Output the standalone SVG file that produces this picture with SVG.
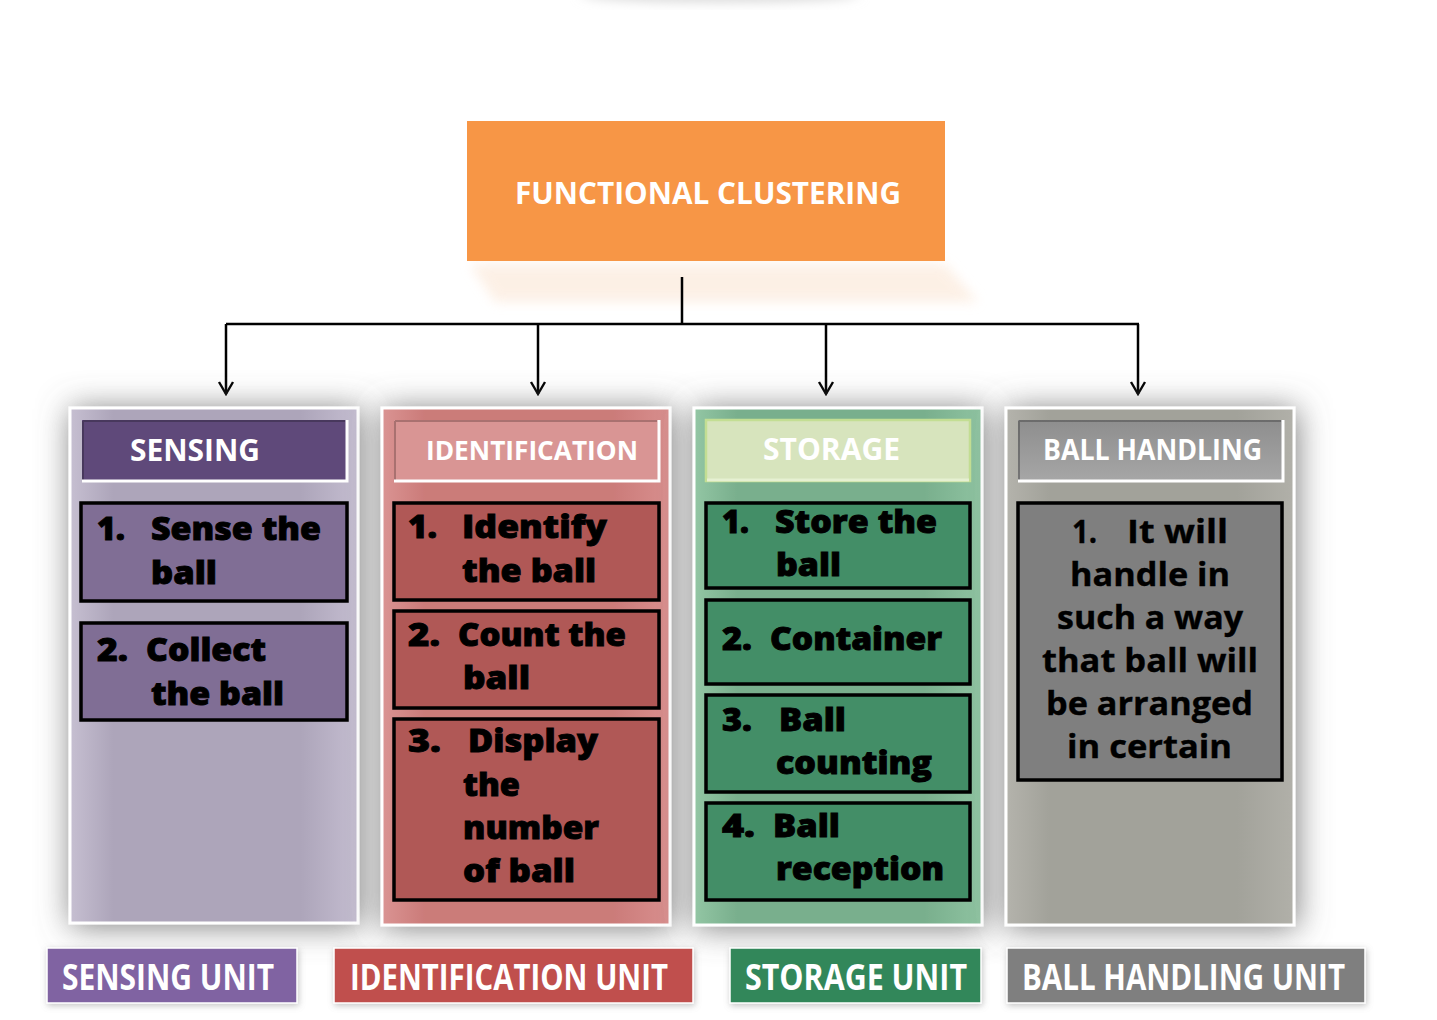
<svg xmlns="http://www.w3.org/2000/svg" width="1437" height="1020" viewBox="0 0 1437 1020">
<defs>
  <filter id="panelShadow" x="-25%" y="-20%" width="150%" height="140%">
    <feGaussianBlur in="SourceAlpha" stdDeviation="16"/>
    <feOffset dx="2" dy="2" result="b"/>
    <feFlood flood-color="#6a6a6a" flood-opacity="0.85"/>
    <feComposite in2="b" operator="in" result="s"/>
    <feMerge><feMergeNode in="s"/><feMergeNode in="SourceGraphic"/></feMerge>
  </filter>
  <filter id="soft" x="-20%" y="-50%" width="140%" height="200%">
    <feGaussianBlur stdDeviation="6"/>
  </filter>
  <filter id="smallShadow" x="-10%" y="-30%" width="120%" height="160%">
    <feGaussianBlur in="SourceAlpha" stdDeviation="3"/>
    <feOffset dx="1" dy="2" result="b"/>
    <feFlood flood-color="#888" flood-opacity="0.5"/>
    <feComposite in2="b" operator="in" result="s"/>
    <feMerge><feMergeNode in="s"/><feMergeNode in="SourceGraphic"/></feMerge>
  </filter>
  <linearGradient id="gSense" x1="0" y1="0" x2="1" y2="0">
    <stop offset="0" stop-color="#C6BFD1"/>
    <stop offset="0.15" stop-color="#ADA5BA"/>
    <stop offset="0.8" stop-color="#ADA5BA"/>
    <stop offset="1" stop-color="#C4BDD0"/>
  </linearGradient>
  <linearGradient id="gIdent" x1="0" y1="0" x2="1" y2="0">
    <stop offset="0" stop-color="#DA9493"/>
    <stop offset="0.15" stop-color="#CB7B79"/>
    <stop offset="0.8" stop-color="#CB7B79"/>
    <stop offset="1" stop-color="#D88F8E"/>
  </linearGradient>
  <linearGradient id="gStore" x1="0" y1="0" x2="1" y2="0">
    <stop offset="0" stop-color="#93C6A4"/>
    <stop offset="0.15" stop-color="#79AF8D"/>
    <stop offset="0.8" stop-color="#79AF8D"/>
    <stop offset="1" stop-color="#8FC3A1"/>
  </linearGradient>
  <linearGradient id="gBall" x1="0" y1="0" x2="1" y2="0">
    <stop offset="0" stop-color="#B4B3AC"/>
    <stop offset="0.15" stop-color="#A2A29A"/>
    <stop offset="0.8" stop-color="#A2A29A"/>
    <stop offset="1" stop-color="#B1B0A9"/>
  </linearGradient>
  <linearGradient id="gBallHead" x1="0" y1="0" x2="0" y2="1">
    <stop offset="0" stop-color="#8E8E8E"/>
    <stop offset="1" stop-color="#A6A6A6"/>
  </linearGradient>
  <marker id="arrow" viewBox="-2 -2 16 18" markerWidth="16" markerHeight="18" refX="12" refY="7" orient="auto" markerUnits="userSpaceOnUse">
    <path d="M0,0 L12,7 L0,14" fill="none" stroke="#000" stroke-width="2.4"/>
  </marker>
  <style>
    .head { font-family: "Open Sans", "Liberation Sans", sans-serif; font-weight: 700; fill: #fff; }
    .item { font-family: "Open Sans", "Liberation Sans", sans-serif; font-weight: 800; font-size: 32px; fill: #000; stroke: #000; stroke-width: 0.9; }
    .item2 { font-family: "Open Sans", "Liberation Sans", sans-serif; font-weight: 700; font-size: 33px; fill: #000; stroke: #000; stroke-width: 0.4; }
    .unit { font-family: "Open Sans", "Liberation Sans", sans-serif; font-weight: 700; font-size: 36px; fill: #fff; }
    .box { stroke: #000; stroke-width: 3.5; }
    .panel { stroke: #fff; stroke-width: 3; }
    .conn { fill: none; stroke: #000; stroke-width: 2.5; }
  </style>
</defs>
<rect width="1437" height="1020" fill="#fff"/>
<ellipse cx="720" cy="-6" rx="140" ry="8" fill="#d8d8d8" filter="url(#soft)"/>

<g id="top">
  <polygon points="470,264 945,264 978,302 495,302" fill="#FCEADB" opacity="0.7" filter="url(#soft)"/>
  <rect x="467" y="121" width="478" height="140" fill="#F79646"/>
  <text class="head" x="515" y="204" font-size="31" textLength="386" lengthAdjust="spacingAndGlyphs">FUNCTIONAL CLUSTERING</text>
</g>

<g id="connectors">
  <path class="conn" d="M682,277 V324"/>
  <path class="conn" d="M226,324 H1139"/>
  <path class="conn" d="M226,324 V394" marker-end="url(#arrow)"/>
  <path class="conn" d="M538,324 V394" marker-end="url(#arrow)"/>
  <path class="conn" d="M826,324 V394" marker-end="url(#arrow)"/>
  <path class="conn" d="M1138,324 V394" marker-end="url(#arrow)"/>
</g>

<g id="sensing">
  <rect class="panel" x="70" y="408" width="288" height="515" fill="url(#gSense)" filter="url(#panelShadow)"/>
  <rect x="82" y="420" width="264" height="61" fill="#5F497A"/>
  <path d="M83,421 H345 M83,421 V480" stroke="#3a2d4a" stroke-width="2" opacity="0.6"/>
  <path d="M82,481 H347 V420" fill="none" stroke="#fff" stroke-width="3"/>
  <text class="head" x="130" y="461" font-size="31" textLength="130" lengthAdjust="spacingAndGlyphs">SENSING</text>
  <rect class="box" x="81" y="503" width="266" height="98" fill="#806E95"/>
  <text class="item" x="97" y="540" textLength="28" lengthAdjust="spacingAndGlyphs">1.</text>
  <text class="item" x="151" y="540" textLength="170" lengthAdjust="spacingAndGlyphs">Sense the</text>
  <text class="item" x="151" y="584" textLength="66" lengthAdjust="spacingAndGlyphs">ball</text>
  <rect class="box" x="81" y="623" width="266" height="97" fill="#806E95"/>
  <text class="item" x="97" y="661" textLength="31" lengthAdjust="spacingAndGlyphs">2.</text>
  <text class="item" x="146" y="661" textLength="120" lengthAdjust="spacingAndGlyphs">Collect</text>
  <text class="item" x="151" y="705" textLength="133" lengthAdjust="spacingAndGlyphs">the ball</text>
</g>

<g id="identification">
  <rect class="panel" x="382" y="408" width="288" height="517" fill="url(#gIdent)" filter="url(#panelShadow)"/>
  <rect x="394" y="420" width="264" height="61" fill="#D99594"/>
  <path d="M395,421 H657 M395,421 V480" stroke="#8a5a59" stroke-width="2" opacity="0.6"/>
  <path d="M394,481 H659 V420" fill="none" stroke="#fff" stroke-width="3"/>
  <text class="head" x="426" y="460" font-size="27" textLength="212" lengthAdjust="spacingAndGlyphs">IDENTIFICATION</text>
  <rect class="box" x="394" y="503" width="265" height="97" fill="#B05856"/>
  <text class="item" x="408" y="538" textLength="29" lengthAdjust="spacingAndGlyphs">1.</text>
  <text class="item" x="462" y="538" textLength="145" lengthAdjust="spacingAndGlyphs">Identify</text>
  <text class="item" x="462" y="582" textLength="134" lengthAdjust="spacingAndGlyphs">the ball</text>
  <rect class="box" x="394" y="611" width="265" height="97" fill="#B05856"/>
  <text class="item" x="408" y="646" textLength="32" lengthAdjust="spacingAndGlyphs">2.</text>
  <text class="item" x="458" y="646" textLength="168" lengthAdjust="spacingAndGlyphs">Count the</text>
  <text class="item" x="463" y="689" textLength="67" lengthAdjust="spacingAndGlyphs">ball</text>
  <rect class="box" x="394" y="719" width="265" height="181" fill="#B05856"/>
  <text class="item" x="408" y="752" textLength="33" lengthAdjust="spacingAndGlyphs">3.</text>
  <text class="item" x="468" y="752" textLength="130" lengthAdjust="spacingAndGlyphs">Display</text>
  <text class="item" x="463" y="796" textLength="57" lengthAdjust="spacingAndGlyphs">the</text>
  <text class="item" x="463" y="839" textLength="136" lengthAdjust="spacingAndGlyphs">number</text>
  <text class="item" x="463" y="882" textLength="112" lengthAdjust="spacingAndGlyphs">of ball</text>
</g>

<g id="storage">
  <rect class="panel" x="694" y="408" width="288" height="517" fill="url(#gStore)" filter="url(#panelShadow)"/>
  <rect x="706" y="420" width="264" height="61" fill="#D7E4BD" stroke="#C3DE93" stroke-width="2.5"/>
  <path d="M707,480 H969" stroke="#E6F0D2" stroke-width="3"/>
  <text class="head" x="763" y="460" font-size="30" textLength="137" lengthAdjust="spacingAndGlyphs">STORAGE</text>
  <rect class="box" x="706" y="503" width="264" height="85" fill="#438E67"/>
  <text class="item" x="722" y="533" textLength="27" lengthAdjust="spacingAndGlyphs">1.</text>
  <text class="item" x="775" y="533" textLength="162" lengthAdjust="spacingAndGlyphs">Store the</text>
  <text class="item" x="776" y="576" textLength="65" lengthAdjust="spacingAndGlyphs">ball</text>
  <rect class="box" x="706" y="600" width="264" height="84" fill="#438E67"/>
  <text class="item" x="722" y="650" textLength="30" lengthAdjust="spacingAndGlyphs">2.</text>
  <text class="item" x="770" y="650" textLength="172" lengthAdjust="spacingAndGlyphs">Container</text>
  <rect class="box" x="706" y="695" width="264" height="97" fill="#438E67"/>
  <text class="item" x="722" y="731" textLength="30" lengthAdjust="spacingAndGlyphs">3.</text>
  <text class="item" x="779" y="731" textLength="67" lengthAdjust="spacingAndGlyphs">Ball</text>
  <text class="item" x="776" y="774" textLength="156" lengthAdjust="spacingAndGlyphs">counting</text>
  <rect class="box" x="706" y="803" width="264" height="97" fill="#438E67"/>
  <text class="item" x="722" y="837" textLength="33" lengthAdjust="spacingAndGlyphs">4.</text>
  <text class="item" x="773" y="837" textLength="67" lengthAdjust="spacingAndGlyphs">Ball</text>
  <text class="item" x="776" y="880" textLength="168" lengthAdjust="spacingAndGlyphs">reception</text>
</g>

<g id="ballhandling">
  <rect class="panel" x="1006" y="408" width="288" height="517" fill="url(#gBall)" filter="url(#panelShadow)"/>
  <rect x="1018" y="420" width="264" height="61" fill="url(#gBallHead)"/>
  <path d="M1019,421 H1281 M1019,421 V480" stroke="#555" stroke-width="2" opacity="0.6"/>
  <path d="M1018,481 H1283 V420" fill="none" stroke="#fff" stroke-width="3"/>
  <text class="head" x="1043" y="460" font-size="28" textLength="219" lengthAdjust="spacingAndGlyphs">BALL  HANDLING</text>
  <rect class="box" x="1018" y="503" width="264" height="277" fill="#7F7F7F"/>
  <text class="item2" x="1072" y="543" textLength="25" lengthAdjust="spacingAndGlyphs">1.</text>
  <text class="item2" x="1127" y="543" textLength="101" lengthAdjust="spacingAndGlyphs">It will</text>
  <text class="item2" x="1070" y="586" textLength="160" lengthAdjust="spacingAndGlyphs">handle in</text>
  <text class="item2" x="1057" y="629" textLength="186" lengthAdjust="spacingAndGlyphs">such a way</text>
  <text class="item2" x="1042" y="672" textLength="216" lengthAdjust="spacingAndGlyphs">that ball will</text>
  <text class="item2" x="1046" y="715" textLength="207" lengthAdjust="spacingAndGlyphs">be arranged</text>
  <text class="item2" x="1067" y="758" textLength="165" lengthAdjust="spacingAndGlyphs">in certain</text>
</g>

<g id="unit-sensing">
  <rect x="47" y="948" width="250" height="55" fill="#8064A2" stroke="#fff" stroke-width="1.5" filter="url(#smallShadow)"/>
  <text class="unit" x="62" y="990" textLength="212" lengthAdjust="spacingAndGlyphs">SENSING UNIT</text>
</g>
<g id="unit-identification">
  <rect x="334" y="948" width="359" height="55" fill="#C0504D" stroke="#fff" stroke-width="1.5" filter="url(#smallShadow)"/>
  <text class="unit" x="350" y="990" textLength="318" lengthAdjust="spacingAndGlyphs">IDENTIFICATION UNIT</text>
</g>
<g id="unit-storage">
  <rect x="730" y="948" width="251" height="55" fill="#31875A" stroke="#fff" stroke-width="1.5" filter="url(#smallShadow)"/>
  <text class="unit" x="745" y="990" textLength="222" lengthAdjust="spacingAndGlyphs">STORAGE UNIT</text>
</g>
<g id="unit-ballhandling">
  <rect x="1007" y="948" width="358" height="55" fill="#7F7F7F" stroke="#fff" stroke-width="1.5" filter="url(#smallShadow)"/>
  <text class="unit" x="1022" y="990" textLength="323" lengthAdjust="spacingAndGlyphs">BALL HANDLING UNIT</text>
</g>
</svg>
